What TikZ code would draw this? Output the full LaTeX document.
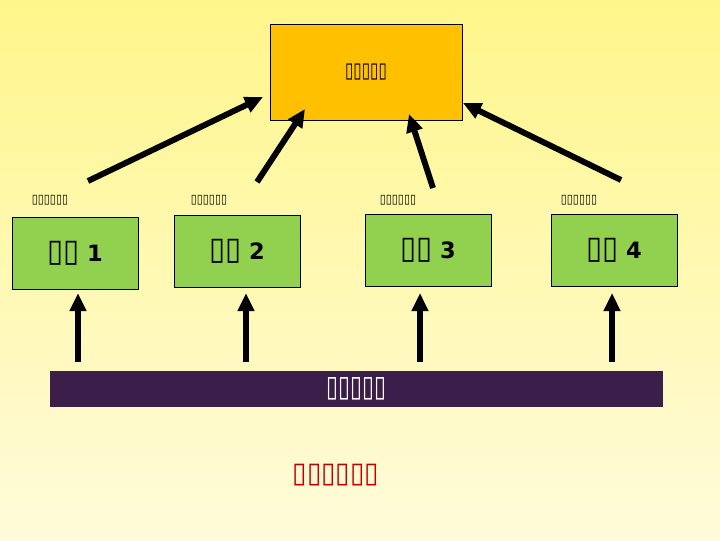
\documentclass[tikz,border=0pt]{standalone}
\usepackage{fontspec}
\setmainfont{DejaVu Sans}
\usepackage{graphicx}
\usepackage{tikz}
\usetikzlibrary{arrows.meta}

\definecolor{bgtop}{HTML}{FFF68A}
\definecolor{bgbottom}{HTML}{FFFBDB}
\definecolor{goldbox}{HTML}{FFC000}
\definecolor{leafgreen}{HTML}{92D050}
\definecolor{plumbar}{HTML}{3B1F4A}
\definecolor{darkred}{HTML}{C00000}

\begin{document}
\begin{tikzpicture}[x=0.025cm, y=-0.025cm]
    \tikzstyle{box} = [rectangle, minimum width=3.15cm, minimum height=1.8cm, text centered, draw=black, fill=leafgreen, font=\fontsize{16}{18}\selectfont\bfseries]
    \tikzstyle{tag} = [font=\fontsize{6}{7}\selectfont]
    \tikzstyle{bigarrow} = [line width=4.2pt, -{Triangle[length=0.45cm, width=0.4cm]}]
    % background
    \fill[top color=bgtop, bottom color=bgbottom] (0,0) rectangle (720,540);
    \node (top) [rectangle, minimum width=4.8cm, minimum height=2.4cm, draw=black, fill=goldbox, font=\fontsize{10}{12}\selectfont] at (366,72) {\scalebox{1.08}[1.5]{▯▯▯▯▯}};
    \node (b1) [box] at (75,253) {\scalebox{1.3}[1.4]{\mdseries ▯▯} 1};
    \node (b2) [box] at (237,251) {\scalebox{1.3}[1.4]{\mdseries ▯▯} 2};
    \node (b3) [box] at (428,250) {\scalebox{1.3}[1.4]{\mdseries ▯▯} 3};
    \node (b4) [box] at (614,250) {\scalebox{1.3}[1.4]{\mdseries ▯▯} 4};
    \node (t1) [tag] at (50,200) {\scalebox{1.3}[1.5]{▯▯▯▯▯▯}};
    \node (t2) [tag] at (209,200) {\scalebox{1.3}[1.5]{▯▯▯▯▯▯}};
    \node (t3) [tag] at (398,200) {\scalebox{1.3}[1.5]{▯▯▯▯▯▯}};
    \node (t4) [tag] at (579,200) {\scalebox{1.3}[1.5]{▯▯▯▯▯▯}};
    \node (bar) [rectangle, minimum width=15.325cm, minimum height=0.9cm, fill=plumbar, text=white, font=\fontsize{14}{16}\selectfont] at (356.5,389) {\scalebox{1.1}[1.5]{▯▯▯▯▯}};
    \node (note) [text=darkred, font=\fontsize{14}{16}\selectfont] at (336,475) {\scalebox{1.33}[1.45]{▯▯▯▯▯▯}};
    % arrow ends
    \coordinate (u1) at (78,362);  \coordinate (v1) at (78,293);
    \coordinate (u2) at (246,362); \coordinate (v2) at (246,293);
    \coordinate (u3) at (420,362); \coordinate (v3) at (420,293);
    \coordinate (u4) at (612,362); \coordinate (v4) at (612,293);
    \coordinate (d1) at (88,181);  \coordinate (e1) at (263,97);
    \coordinate (d2) at (257,182); \coordinate (e2) at (305,109);
    \coordinate (d3) at (433,188); \coordinate (e3) at (409,114);
    \coordinate (d4) at (621,180); \coordinate (e4) at (463,103);
    \foreach \i in {1,...,4} {
        \draw[bigarrow] (u\i) -- (v\i);
        \draw[bigarrow] (d\i) -- (e\i);
    }
\end{tikzpicture}
\end{document}
